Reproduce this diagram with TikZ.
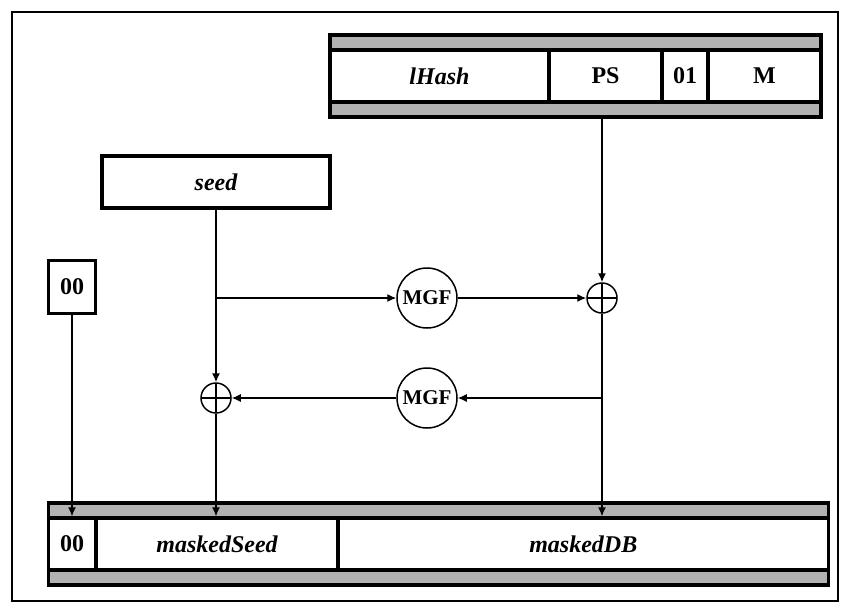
\documentclass[tikz,border=0pt]{standalone}
\usepackage{fontspec}
\setmainfont{Liberation Serif}
\usetikzlibrary{arrows.meta}

\begin{document}
\begin{tikzpicture}[
    x=1pt, y=-1pt,
    every node/.style={font=\fontsize{24}{28}\selectfont\bfseries, inner sep=0pt},
    band/.style={draw, line width=3.4pt, fill=black!30, minimum height=82pt},
    field/.style={draw, line width=3.4pt, fill=white, minimum height=52pt},
    fn/.style={circle, draw, line width=1.5pt, minimum size=60pt, font=\fontsize{21}{24}\selectfont\bfseries},
    xor/.style={circle, draw, line width=1.5pt, minimum size=30pt,
        path picture={\draw[line width=1.3pt] (path picture bounding box.north) -- (path picture bounding box.south)
                                              (path picture bounding box.west) -- (path picture bounding box.east);}},
    every edge/.style={draw, line width=1.3pt, -{Latex[length=9pt,width=8pt]}},
]
  \useasboundingbox (0,0) rectangle (850,608);
  \draw [line width=1.5pt] (12,12) rectangle (838,601);

  % data block
  \node [band]  (db)  at (575.5,76) [minimum width=491pt] {};
  \node [field] (lh)  at (439.5,76) [minimum width=219pt] {\itshape lHash};
  \node [field] (ps)  at (605.5,76) [minimum width=113pt] {PS};
  \node [field] (one) at (685,76)   [minimum width=46pt]  {01};
  \node [field] (msg) at (764.5,76) [minimum width=113pt] {M};

  % encoded message
  \node [band]  (em)  at (438.5,544) [minimum width=780pt] {};
  \node [field] (z0)  at (72,544)    [minimum width=47pt]  {00};
  \node [field] (ms)  at (217,544)   [minimum width=242pt] {\itshape maskedSeed};
  \node [field] (md)  at (583.25,544) [minimum width=490.5pt] {\itshape maskedDB};

  \node [field] (seed) at (216,182) [minimum width=228pt] {\itshape seed};
  \node [field] (zz)   at (72,287)  [minimum width=47pt, minimum height=53pt] {00};

  \node [fn]  (mgf1) at (427,298) {MGF};
  \node [xor] (x1)   at (602,298) {};
  \node [fn]  (mgf2) at (427,398) {MGF};
  \node [xor] (x2)   at (216,398) {};

  \coordinate (br1) at (216,298);
  \coordinate (br2) at (602,398);

  \draw (seed.south) edge (x2.north)
        (br1)        edge (mgf1.west)
        (mgf1.east)  edge (x1.west)
        (x1 |- db.south) edge (x1.north)
        (br2)        edge (mgf2.east)
        (mgf2.west)  edge (x2.east)
        (x2.south)   edge (x2.south |- ms.north)
        (x1.south)   edge (x1.south |- md.north)
        (zz.south)   edge (zz.south |- z0.north);
\end{tikzpicture}
\end{document}
